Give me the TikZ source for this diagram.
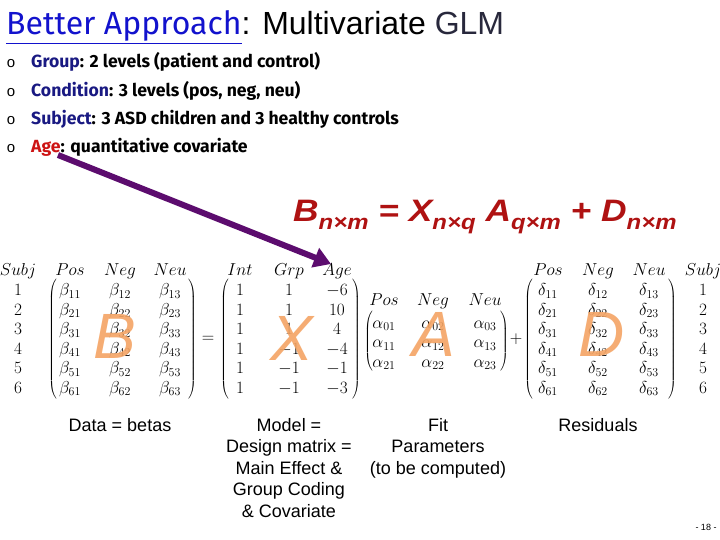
\documentclass[tikz,border=0pt]{standalone}
\usepackage[no-math]{fontspec}
\setmainfont{Liberation Sans}
\newfontfamily\bulletfont{Fira Sans}
\newfontfamily\humanist{Fira Sans}
\usetikzlibrary{arrows.meta}
\definecolor{titleblue}{RGB}{18,18,205}
\definecolor{glmgray}{RGB}{40,40,60}
\definecolor{navy}{RGB}{25,25,130}
\definecolor{agered}{RGB}{205,20,20}
\definecolor{eqred}{RGB}{175,18,18}
\definecolor{arrowpurple}{RGB}{92,12,110}
\definecolor{bigorange}{RGB}{244,164,100}
\tikzset{
  bullettext/.style={anchor=base west, inner sep=0pt, font=\bulletfont\bfseries\fontsize{17.6}{19}\selectfont},
  bulletmark/.style={anchor=base, inner sep=0pt, font=\fontsize{15}{16}\selectfont},
  mathcell/.style={anchor=base, inner sep=0pt, font=\fontsize{17.28}{20}\selectfont},
  paren/.style={inner sep=0pt, font=\fontsize{17.28}{20}\selectfont},
  bigletter/.style={inner sep=0pt, text=bigorange, text opacity=0.9, font=\fontsize{64}{64}\selectfont\itshape},
  caption/.style={align=center, inner sep=0pt, font=\fontsize{18}{21.5}\selectfont},
}
\newcommand{\subsz}[1]{\raisebox{-8pt}{\fontsize{21}{21}\selectfont #1}}
\begin{document}
\begin{tikzpicture}[x=1pt,y=-1pt]
\fill[white] (0,0) rectangle (720,540);
\useasboundingbox (0,0) rectangle (720,540);

% title
\node[anchor=base west, inner sep=0pt, font=\fontsize{32}{36}\selectfont] (title) at (6,35)
  {\textcolor{titleblue}{\underline{\humanist Better Approach}}: Multivariate \textcolor{glmgray}{GLM}};

% bullets
\foreach \y/\nm in {68/b1,97/b2,125/b3,153/b4}{
  \node[bulletmark] (m\nm) at (11,\y) {o};
}
\node[bullettext] (b1) at (31,68) {\textcolor{navy}{Group}: 2 levels (patient and control)};
\node[bullettext] (b2) at (31,97) {\textcolor{navy}{Condition}: 3 levels (pos, neg, neu)};
\node[bullettext] (b3) at (31,125) {\textcolor{navy}{Subject}: 3 ASD children and 3 healthy controls};
\node[bullettext] (b4) at (31,153) {\textcolor{agered}{Age}: quantitative covariate};

% equation
\node[anchor=base west, inner sep=0pt, text=eqred, font=\fontsize{31}{36}\selectfont\bfseries\itshape] (eq) at (293,222)
  {\scalebox{1.14}[1]{B\subsz{n×m} = X\subsz{n×q} A\subsz{q×m} + D\subsz{n×m}}};

% headers
\node[mathcell] (hs1) at (18,275) {$Subj$};
\node[mathcell] (hb1) at (70,275) {$Pos$};
\node[mathcell] (hb2) at (120,275) {$Neg$};
\node[mathcell] (hb3) at (170,275) {$Neu$};
\node[mathcell] (hx1) at (240,275) {$Int$};
\node[mathcell] (hx2) at (289,275) {$Grp$};
\node[mathcell] (hx3) at (337,275) {$Age$};
\node[mathcell] (ha1) at (384,305) {$Pos$};
\node[mathcell] (ha2) at (433,305) {$Neg$};
\node[mathcell] (ha3) at (485,305) {$Neu$};
\node[mathcell] (hd1) at (548,275) {$Pos$};
\node[mathcell] (hd2) at (598,275) {$Neg$};
\node[mathcell] (hd3) at (649,275) {$Neu$};
\node[mathcell] (hs2) at (703,275) {$Subj$};

% B and D rows, subject labels
\foreach \r [evaluate=\r as \y using {276+19.5*\r}] in {1,...,6}{
  \node[mathcell] (sl\r) at (18,\y) {$\r$};
  \node[mathcell] (sr\r) at (703,\y) {$\r$};
  \foreach \c/\x in {1/70,2/120,3/170}{
    \node[mathcell] (b\r\c) at (\x,\y) {$\beta_{\r\c}$};
  }
  \foreach \c/\x in {1/548,2/598,3/649}{
    \node[mathcell] (d\r\c) at (\x,\y) {$\delta_{\r\c}$};
  }
}

% X rows
\foreach \r/\g/\a [evaluate=\r as \y using {276+19.5*\r}] in {1/1/-6,2/1/10,3/1/4,4/-1/-4,5/-1/-1,6/-1/-3}{
  \node[mathcell] (x\r1) at (240,\y) {$1$};
  \node[mathcell] (x\r2) at (289,\y) {$\g$};
  \node[mathcell] (x\r3) at (337,\y) {$\a$};
}

% A rows
\foreach \r [evaluate=\r as \y using {328+19.5*(\r)}] in {0,1,2}{
  \foreach \c/\x in {1/384,2/433,3/485}{
    \node[mathcell] (a\r\c) at (\x,\y) {$\alpha_{\r\c}$};
  }
}

% parentheses
\node[paren] (pbl) at (53,339) {$\left(\vrule height 56pt depth 56pt width 0pt\right.$};
\node[paren] (pbr) at (192,339) {$\left.\vrule height 56pt depth 56pt width 0pt\right)$};
\node[paren] (pxl) at (225,339) {$\left(\vrule height 56pt depth 56pt width 0pt\right.$};
\node[paren] (pxr) at (356,339) {$\left.\vrule height 56pt depth 56pt width 0pt\right)$};
\node[paren] (pal) at (369,342) {$\left(\vrule height 28pt depth 28pt width 0pt\right.$};
\node[paren] (par) at (504,342) {$\left.\vrule height 28pt depth 28pt width 0pt\right)$};
\node[paren] (pdl) at (529,339) {$\left(\vrule height 56pt depth 56pt width 0pt\right.$};
\node[paren] (pdr) at (672,339) {$\left.\vrule height 56pt depth 56pt width 0pt\right)$};
\node[paren] (eqs) at (208,339) {$=$};
\node[paren] (pls) at (516,339) {$+$};

% big letters
\node[bigletter] (LB) at (115,336) {B};
\node[bigletter] (LX) at (292,338) {X};
\node[bigletter] (LA) at (434,334) {A};
\node[bigletter] (LD) at (602,334) {D};

% arrow
\coordinate (arrS) at (58,155);
\coordinate (arrE) at (331,264);
\draw[arrowpurple, line width=6pt, -{Triangle[width=20pt,length=17pt]}] (arrS) -- (arrE);

% captions
\node[caption, anchor=north] (cB) at (120,418) {Data = betas};
\node[caption, anchor=north] (cX) at (289,418) {Model =\\Design matrix =\\Main Effect \&\\Group Coding\\\& Covariate};
\node[caption, anchor=north] (cA) at (438,418) {Fit\\Parameters\\(to be computed)};
\node[caption, anchor=north] (cD) at (598,418) {Residuals};

% page number
\node[inner sep=0pt, font=\fontsize{9}{10}\selectfont] (pg) at (706,527) {- 18 -};
\end{tikzpicture}
\end{document}
